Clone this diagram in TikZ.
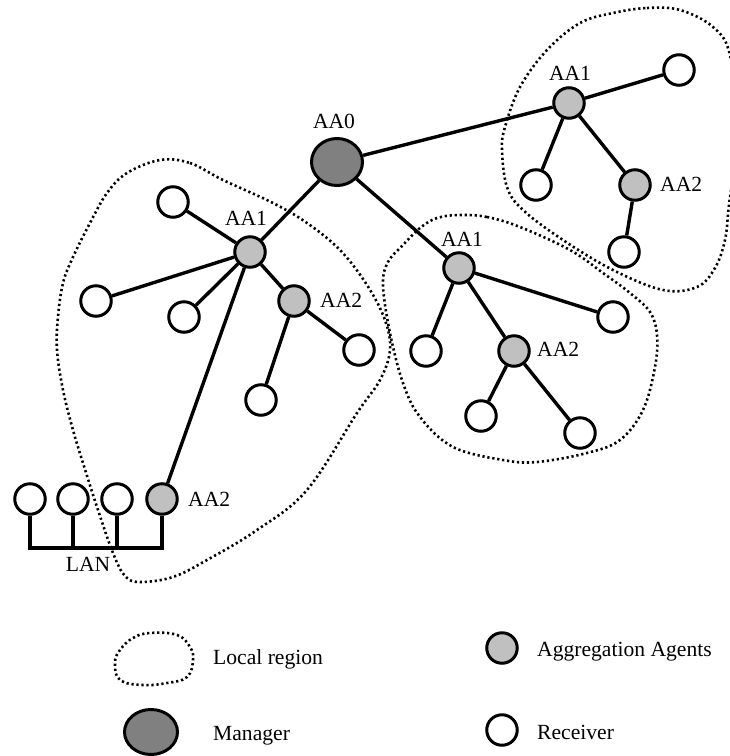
\documentclass[tikz,border=0pt]{standalone}
\usepackage{fontspec}
\setmainfont{Liberation Serif}
\usetikzlibrary{shapes.geometric}
\definecolor{agentgray}{RGB}{192,192,192}
\definecolor{mgrgray}{RGB}{128,128,128}
\begin{document}
\begin{tikzpicture}[x=1pt,y=-1pt,
  recv/.style={circle,draw,line width=3pt,fill=white,minimum size=30.5pt,inner sep=0pt},
  agent/.style={recv,fill=agentgray},
  mgr/.style={ellipse,draw,line width=3pt,fill=mgrgray,minimum width=51pt,minimum height=47pt,inner sep=0pt},
  link/.style={line width=3.4pt},
  region/.style={line width=2.6pt,dash pattern=on 2.2pt off 2.8pt},
  lbl/.style={font=\fontsize{21.6}{24}\selectfont,inner sep=0pt}
]
\useasboundingbox (0,0) rectangle (730,756);

% local regions
\draw[region] plot[smooth cycle,tension=0.6] coordinates {
  (160,160) (190,163) (223,180) (273,203) (307,223) (340,250) (367,285)
  (385,320) (390,350) (380,380) (357,413) (307,490) (257,530) (207,560)
  (173,577) (140,582) (125,576) (113,553) (97,507) (83,463) (73,430)
  (63,390) (57,350) (58,317) (63,283) (73,257) (90,223) (107,193) (127,173)};
\draw[region] plot[smooth cycle,tension=0.6] coordinates {
  (613,13) (647,8) (680,10) (713,27) (730,55) (738,130) (729,205)
  (725,240) (715,268) (697,287) (663,290) (613,270) (563,240) (523,210)
  (507,187) (502,150) (505,127) (520,87) (547,50) (580,23)};
\draw[region] plot[smooth cycle,tension=0.6] coordinates {
  (460,215) (487,217) (520,227) (570,250) (603,273) (630,293) (650,312)
  (657,335) (655,367) (643,410) (620,440) (587,453) (537,462) (503,460)
  (453,447) (420,417) (403,383) (390,333) (383,285) (388,262) (403,245)
  (420,228) (437,218)};

% manager
\node[mgr] (m) at (337,162) {};
\node[lbl,anchor=base] (lm) at (334,128) {AA0};

% left cluster
\node[agent] (l1) at (250,252) {};
\node[lbl,anchor=base] (ll1) at (246,225) {AA1};
\node[recv] (lr1) at (173,202) {};
\node[recv] (lr2) at (96,301) {};
\node[recv] (lr3) at (184,317) {};
\node[agent] (l2) at (294,301) {};
\node[lbl,anchor=base west] (ll2) at (320,307) {AA2};
\node[recv] (lr4) at (359,350) {};
\node[recv] (lr5) at (261,400) {};

% LAN segment
\node[recv] (n1) at (30,499) {};
\node[recv] (n2) at (73,499) {};
\node[recv] (n3) at (117,499) {};
\node[agent] (b2) at (162,499) {};
\node[lbl,anchor=base west] (lb2) at (188,506) {AA2};
\coordinate (bus1) at (30,548);
\coordinate (bus2) at (73,548);
\coordinate (bus3) at (117,548);
\coordinate (bus4) at (162,548);
\node[lbl,anchor=base] (lan) at (88,571) {LAN};

% upper right cluster
\node[agent] (u1) at (569,103) {};
\node[lbl,anchor=base] (lu1) at (570,80) {AA1};
\node[recv] (ur1) at (679,70) {};
\node[recv] (ur2) at (536,185) {};
\node[agent] (u2) at (635,185) {};
\node[lbl,anchor=base west] (lu2) at (660,191) {AA2};
\node[recv] (ur3) at (624,252) {};

% middle cluster
\node[agent] (c1) at (459,268) {};
\node[lbl,anchor=base] (lc1) at (462,246) {AA1};
\node[recv] (cr1) at (613,317) {};
\node[recv] (cr2) at (426,351) {};
\node[agent] (c2) at (514,351) {};
\node[lbl,anchor=base west] (lc2) at (537,356) {AA2};
\node[recv] (cr3) at (481,416) {};
\node[recv] (cr4) at (580,433) {};

% links
\draw[link] (m) -- (l1);
\draw[link] (m) -- (u1);
\draw[link] (m) -- (c1);
\draw[link] (l1) -- (lr1);
\draw[link] (l1) -- (lr2);
\draw[link] (l1) -- (lr3);
\draw[link] (l1) -- (l2);
\draw[link] (l1) -- (b2);
\draw[link] (l2) -- (lr4);
\draw[link] (l2) -- (lr5);
\draw[link] (u1) -- (ur1);
\draw[link] (u1) -- (ur2);
\draw[link] (u1) -- (u2);
\draw[link] (u2) -- (ur3);
\draw[link] (c1) -- (cr1);
\draw[link] (c1) -- (cr2);
\draw[link] (c1) -- (c2);
\draw[link] (c2) -- (cr3);
\draw[link] (c2) -- (cr4);
\draw[link] (n1.south) -- (bus1);
\draw[link] (n2.south) -- (bus2);
\draw[link] (n3.south) -- (bus3);
\draw[link] (b2.south) -- (bus4);
\draw[link,line cap=rect] (bus1) -- (bus4);

% legend
\draw[region] plot[smooth cycle,tension=0.7] coordinates {
  (150,633) (177,635) (190,647) (193,660) (187,677) (167,683) (143,685)
  (120,680) (115,663) (120,650) (133,638)};
\node[lbl,anchor=base west] (tl) at (213,664) {Local region};
\node[mgr,minimum width=53pt,minimum height=45pt] (km) at (151,732) {};
\node[lbl,anchor=base west] (tm) at (213,740) {Manager};
\node[agent] (ka) at (502,648) {};
\node[lbl,anchor=base west] (ta) at (537,656) {Aggregation Agents};
\node[recv] (kr) at (502,730) {};
\node[lbl,anchor=base west] (tr) at (537,739) {Receiver};
\end{tikzpicture}
\end{document}
